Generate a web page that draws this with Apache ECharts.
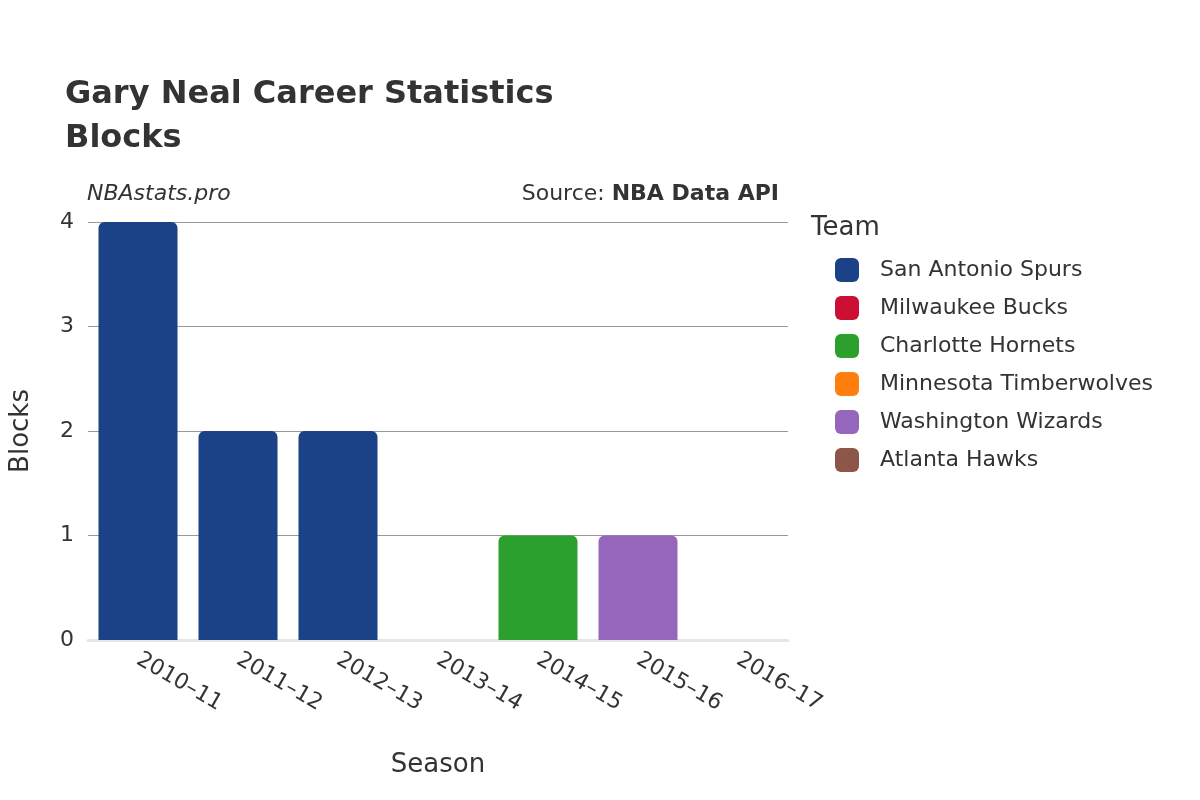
<!DOCTYPE html>
<html><head><meta charset="utf-8">
<script src="https://cdn.jsdelivr.net/npm/echarts@6/dist/echarts.min.js"></script>
<style>html,body{margin:0;padding:0;background:#fff}#c{width:1200px;height:800px}</style>
</head><body><div id="c"></div>
<script>
const seasons = ["2010–11","2011–12","2012–13","2013–14","2014–15","2015–16","2016–17"];
const teams = ["San Antonio Spurs","Milwaukee Bucks","Charlotte Hornets","Minnesota Timberwolves","Washington Wizards","Atlanta Hawks"];
const colors = ["#1b4287","#cc1033","#2ca02c","#ff7f0e","#9467bd","#8c564b"];
const spurs = [4,2,2,null,null,null,null];
const bucks = [null,null,null,0,null,null,null];
const hornets = [null,null,null,null,1,null,null];
const wolves = [null,null,null,null,null,0,null];
const wizards = [null,null,null,null,null,1,null];
const hawks = [null,null,null,null,null,null,0];
const values = [spurs,bucks,hornets,wolves,wizards,hawks];
const yTicks = [0,1,2,3,4];
const F = "DejaVu Sans";
const chart = echarts.init(document.getElementById('c'));
chart.setOption({
  animation:false,
  textStyle:{fontFamily:F},
  title:[
    {text:"{b|Gary Neal} Career Statistics\nBlocks",left:60,top:68,textStyle:{fontFamily:F,fontSize:32,color:"#333",lineHeight:44,rich:{b:{fontFamily:F,fontSize:32,fontWeight:"bold",color:"#333"}}}},
    {text:"NBAstats.pro",left:82,top:178,textStyle:{fontFamily:F,fontSize:22,fontStyle:"italic",fontWeight:"normal",color:"#333"}},
    {text:"Source: {b|NBA Data API}",right:416,top:178,textStyle:{fontFamily:F,fontSize:22,fontWeight:"normal",color:"#333",rich:{b:{fontFamily:F,fontSize:22,fontWeight:"bold",color:"#333"}}}},
    {text:"Team",left:806,top:210,textStyle:{fontFamily:F,fontSize:26,fontWeight:"normal",color:"#333"}}
  ],
  legend:{orient:"vertical",left:830,top:253,itemWidth:24,itemHeight:24,itemGap:14,icon:"roundRect",
    textStyle:{fontFamily:F,fontSize:22,color:"#333",padding:[0,0,0,16]},data:teams},
  grid:{left:77,right:412,top:222,bottom:160},
  xAxis:{type:"category",data:seasons,name:"Season",nameLocation:"middle",nameGap:112,
    nameTextStyle:{fontFamily:F,fontSize:26,color:"#333"},
    axisLine:{lineStyle:{color:"#e6e6e6",width:3}},axisTick:{show:false},
    axisLabel:{rotate:-30,fontFamily:F,fontSize:22,color:"#333",margin:18}},
  yAxis:{type:"value",min:0,max:4,interval:1,name:"Blocks",nameLocation:"middle",nameGap:54,
    nameTextStyle:{fontFamily:F,fontSize:26,color:"#333"},
    axisLabel:{fontFamily:F,fontSize:22,color:"#333",margin:14,formatter:v=>yTicks.includes(v)?String(v):""},
    splitLine:{lineStyle:{color:"#999",width:1}}},
  series:teams.map((t,i)=>({name:t,type:"bar",stack:"s",data:values[i],barWidth:"79%",
    itemStyle:{color:colors[i],borderRadius:[6,6,0,0]}}))
});
</script></body></html>
